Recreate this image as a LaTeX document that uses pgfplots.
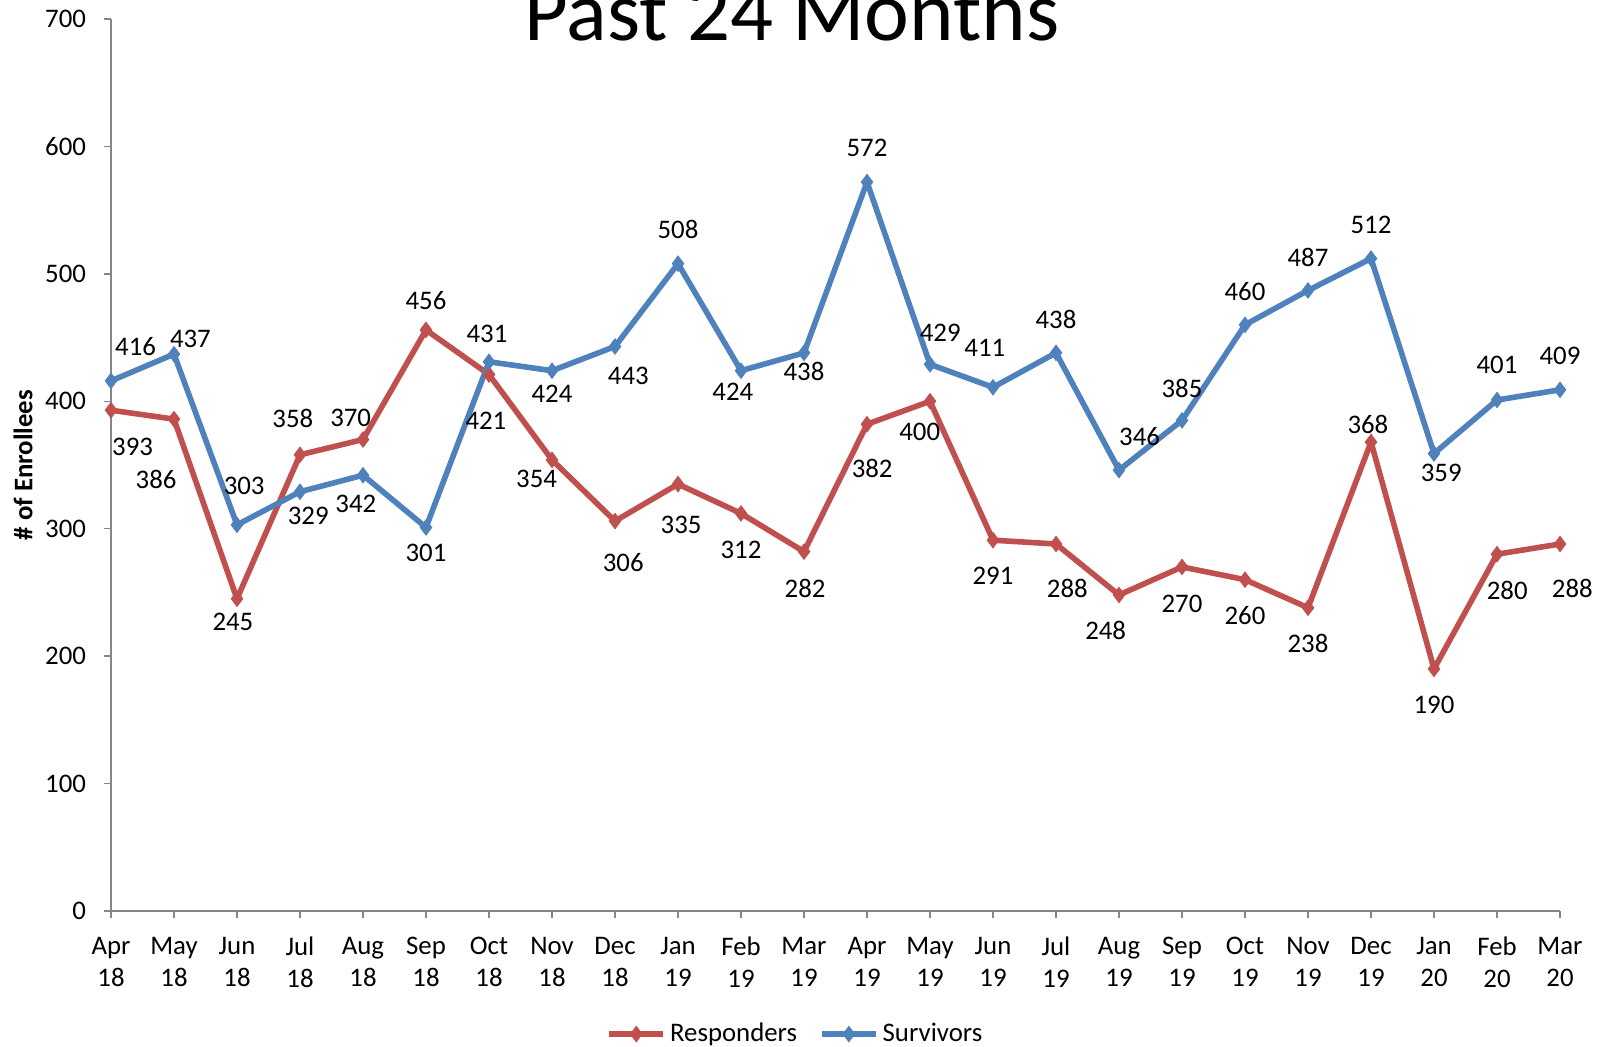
\documentclass[border=0pt]{standalone}
\usepackage{fontspec}
\setmainfont{Carlito}
\usepackage{pgfplots}
\usepackage{pgfplotstable}
\pgfplotsset{compat=1.18}

\definecolor{resp}{HTML}{C0504D}
\definecolor{surv}{HTML}{4F81BD}
\definecolor{axgray}{HTML}{868686}

% x = month index (Apr 18 = 0), y = enrollees, dx/dy = label offset (px, y down)
\pgfplotstableread{
x y dx dy
0 393 21 35.5
1 386 -17.5 59
2 245 -4 22.5
3 358 -7 -35
4 370 -12 -21
5 456 0 -29
6 421 -3 45
7 354 -15 19
8 306 8 40
9 335 3 40
10 312 0 36
11 282 1 35.5
12 382 5 43
13 400 -10 30
14 291 0 35
15 288 11 43
16 248 -13 35
17 270 0 36
18 260 0 35
19 238 0 35
20 368 -3 -17
21 190 0 35
22 280 10 35
23 288 12 43
}\responders

\pgfplotstableread{
x y dx dy
0 416 24 -33
1 437 16 -15
2 303 7 -38
3 329 8 24
4 342 -7 28
5 301 0 25
6 431 -2 -27
7 424 0 23
8 443 13 29
9 508 0 -33
10 424 -8 21
11 438 0 18
12 572 0 -33
13 429 10 -31
14 411 -8 -38
15 438 0 -33
16 346 20 -33
17 385 0 -31
18 460 0 -32
19 487 0 -32
20 512 0 -33
21 359 7 19
22 401 0 -34
23 409 0 -33
}\survivors

\pgfplotsset{
    labelled/.style={
        forget plot, draw=none, mark=none,
        nodes near coords,
        visualization depends on={0.513*\thisrow{dx} \as \labdx},
        visualization depends on={-0.513*\thisrow{dy} \as \labdy},
        nodes near coords style={anchor=center, font=\fontsize{13.4}{16}\selectfont, text=black,
            xshift=\labdx pt, yshift=\labdy pt},
    },
}

\begin{document}
\begin{tikzpicture}
\begin{axis}[
    name=ax,
    scale only axis,
    width=724.5pt, height=446pt,
    xmin=0, xmax=23,
    ymin=0, ymax=700,
    clip=false,
    xtick={0,...,23},
    xticklabels={{Apr\\18},{May\\18},{Jun\\18},{Jul\\18},{Aug\\18},{Sep\\18},{Oct\\18},{Nov\\18},{Dec\\18},{Jan\\19},{Feb\\19},{Mar\\19},{Apr\\19},{May\\19},{Jun\\19},{Jul\\19},{Aug\\19},{Sep\\19},{Oct\\19},{Nov\\19},{Dec\\19},{Jan\\20},{Feb\\20},{Mar\\20}},
    ytick={0,100,...,700},
    axis x line*=bottom,
    axis y line*=left,
    axis line style={axgray, line width=0.75pt, -},
    tick style={axgray, line width=0.75pt},
    tick align=outside,
    major tick length=3.5pt,
    /pgf/number format/assume math mode=true,
    tick label style={font=\fontsize{13.4}{16}\selectfont},
    xticklabel style={align=center, yshift=-6pt},
    yticklabel style={xshift=-5.5pt},
    ylabel={\textbf{\# of Enrollees}},
    ylabel style={at={(axis description cs:-0.0607,0.5)}, anchor=center, rotate=0, font=\fontsize{13.4}{16}\selectfont},
    legend columns=2,
    legend style={at={(axis description cs:0.473,-0.138)}, anchor=center, draw=none,
        font=\fontsize{13.4}{16}\selectfont,
        /tikz/every even column/.append style={column sep=9pt},
        inner sep=0pt},
    legend image code/.code={\draw[mark repeat=2, mark phase=2] plot coordinates {(0pt,0pt) (13.5pt,0pt) (27pt,0pt)};},
]
\addplot[color=resp, line width=2.8pt, mark=diamond*, mark size=3.8pt, mark options={solid, fill=resp, line width=0.5pt}] table[x=x, y=y] {\responders};
\addlegendentry{Responders}
\addplot[color=surv, line width=2.8pt, mark=diamond*, mark size=3.8pt, mark options={solid, fill=surv, line width=0.5pt}] table[x=x, y=y] {\survivors};
\addlegendentry{Survivors}
\addplot[labelled] table[x=x, y=y] {\responders};
\addplot[labelled] table[x=x, y=y] {\survivors};
\end{axis}
\node[anchor=base, font=\fontsize{42.4}{50}\selectfont] at ([shift={(340.5pt,-11pt)}]ax.north west) {Past 24 Months};
\pgfresetboundingbox
\path ([shift={(-55.5pt,-68pt)}]ax.south west) rectangle ([shift={(24pt,9.5pt)}]ax.north east);
\end{tikzpicture}
\end{document}
